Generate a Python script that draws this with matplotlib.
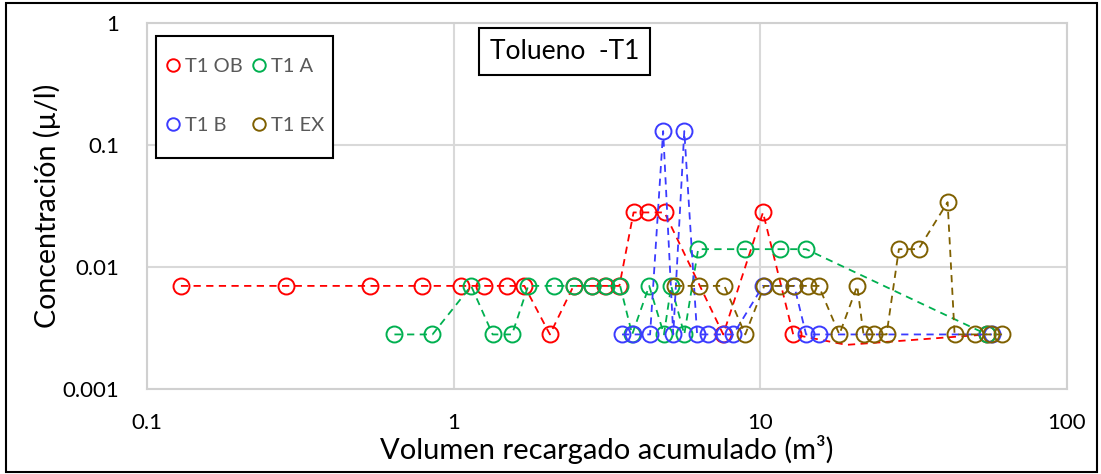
import matplotlib
matplotlib.use("Agg")
import matplotlib.pyplot as plt
from matplotlib.patches import Rectangle
from matplotlib.ticker import FixedLocator, FixedFormatter, NullLocator

plt.rcParams["font.family"] = ["Lato", "DejaVu Sans"]

# ── data ─────────────────────────────────────────────────────────────────────
ob_x = [0.129, 0.284, 0.532, 0.787, 1.06, 1.26, 1.49, 1.70, 2.06, 2.46, 2.82,
        3.12, 3.47, 3.86, 4.29, 4.87, 7.57, 10.2, 12.8, 19.1, 54.8]
ob_y = [0.007, 0.007, 0.007, 0.007, 0.007, 0.007, 0.007, 0.007, 0.0028, 0.007,
        0.007, 0.007, 0.007, 0.028, 0.028, 0.028, 0.0028, 0.028, 0.0028, 0.0023,
        0.0028]
ob_hidden = [19]  # line bends here but no marker shows in the original

a_x = [0.641, 0.853, 1.14, 1.34, 1.55, 1.75, 2.12, 2.47, 2.82, 3.14, 3.49, 3.82,
       4.34, 4.85, 5.12, 5.65, 6.27, 8.93, 11.6, 14.1, 54.8]
a_y = [0.0028, 0.0028, 0.007, 0.0028, 0.0028, 0.007, 0.007, 0.007, 0.007, 0.007,
       0.007, 0.0028, 0.007, 0.0028, 0.007, 0.0028, 0.014, 0.014, 0.014, 0.014,
       0.0028]

b_x = [3.54, 3.85, 4.37, 4.82, 5.20, 5.65, 6.22, 6.76, 7.63, 8.16, 10.2, 12.9,
       14.1, 15.5, 56.9]
b_y = [0.0028, 0.0028, 0.0028, 0.13, 0.0028, 0.13, 0.0028, 0.0028, 0.0028,
       0.0028, 0.007, 0.007, 0.0028, 0.0028, 0.0028]

ex_x = [5.27, 6.32, 7.63, 8.93, 10.3, 11.6, 12.9, 14.3, 15.5, 18.1, 20.7, 21.7,
        23.4, 25.8, 28.3, 32.8, 40.8, 43.0, 50.0, 56.5, 61.4]
ex_y = [0.007, 0.007, 0.007, 0.0028, 0.007, 0.007, 0.007, 0.007, 0.007, 0.0028,
        0.007, 0.0028, 0.0028, 0.0028, 0.014, 0.014, 0.034, 0.0028, 0.0028, 0.0028,
        0.0028]

series = [
    ("T1 OB", ob_x, ob_y, "#ff0000", ob_hidden),
    ("T1 A", a_x, a_y, "#00b050", []),
    ("T1 B", b_x, b_y, "#3b3bff", []),
    ("T1 EX", ex_x, ex_y, "#7f6000", []),
]

x_ticks = [0.1, 1, 10, 100]
x_labels = ["0.1", "1", "10", "100"]
y_ticks = [0.001, 0.01, 0.1, 1]
y_labels = ["0.001", "0.01", "0.1", "1"]

# ── figure ───────────────────────────────────────────────────────────────────
fig = plt.figure(figsize=(11.01, 4.74), dpi=100)
ax = fig.add_axes([147 / 1101, 1 - 389 / 474, (1067 - 147) / 1101, (389 - 23) / 474])

handles = {}
for name, xs, ys, col, hidden in series:
    shown = [i for i in range(len(xs)) if i not in hidden]
    ln, = ax.plot(xs, ys, ls=(0, (4, 3)), lw=1.3, color=col, marker="o", ms=11.5,
                  mfc="none", mec=col, mew=1.4, markevery=shown, label=name)
    handles[name] = ln

ax.set_xscale("log"); ax.set_yscale("log")
ax.set_xlim(0.1, 100); ax.set_ylim(0.001, 1)
ax.xaxis.set_major_locator(FixedLocator(x_ticks))
ax.xaxis.set_major_formatter(FixedFormatter(x_labels))
ax.yaxis.set_major_locator(FixedLocator(y_ticks))
ax.yaxis.set_major_formatter(FixedFormatter(y_labels))
ax.xaxis.set_minor_locator(NullLocator())
ax.yaxis.set_minor_locator(NullLocator())
ax.tick_params(length=0, labelsize=16, colors="black")
ax.tick_params(axis="y", pad=20)
ax.tick_params(axis="x", pad=17)
ax.grid(True, color="#d9d9d9", lw=1.5)
ax.set_axisbelow(True)
for s in ax.spines.values():
    s.set_color("#d0d0d0"); s.set_linewidth(1.5)

ax.set_xlabel("Volumen recargado acumulado (m³)", fontsize=21, labelpad=2)
ax.set_ylabel("Concentración (µ/l)", fontsize=20.5, labelpad=1)

# legend box drawn separately so the padding can match the Excel original
ax.add_patch(Rectangle((9 / 920, 1 - 135 / 366), 177 / 920, 122 / 366,
                       transform=ax.transAxes, fc="white", ec="black", lw=1.5,
                       zorder=4))
# Excel fills the legend row by row: OB, A / B, EX
order = ["T1 OB", "T1 B", "T1 A", "T1 EX"]
leg = ax.legend([handles[n] for n in order], order, loc="upper left",
                bbox_to_anchor=(20 / 920, 1 - 34.5 / 366), borderaxespad=0,
                borderpad=0, ncol=2, fontsize=14.5, labelcolor="#595959",
                handlelength=0.6, handletextpad=0.3, columnspacing=0.5,
                labelspacing=2.1, frameon=False)
leg.set_zorder(5)
for h in leg.legend_handles:
    h.set_linestyle("none"); h.set_markersize(9)

ax.text(0.454, 0.922, "Tolueno  -T1", transform=ax.transAxes, fontsize=19,
        ha="center", va="center", zorder=5,
        bbox=dict(boxstyle="square,pad=0.4", fc="white", ec="black", lw=1.5))

fig.patches.append(Rectangle((0.005, 0.004), 0.991, 0.99, transform=fig.transFigure,
                             fill=False, ec="black", lw=1.5))

fig.savefig("out.png", dpi=100)
